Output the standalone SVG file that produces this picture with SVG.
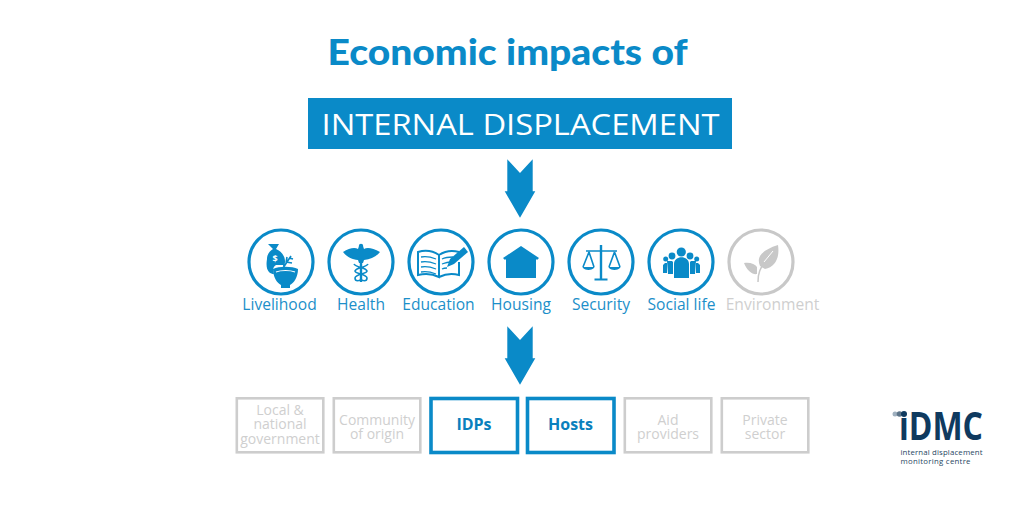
<svg xmlns="http://www.w3.org/2000/svg" width="1024" height="512" viewBox="0 0 1024 512">
<style>
.c{fill:#fff;stroke:#0a8ac8;stroke-width:3.2}
.cg{fill:#fff;stroke:#c8c8c8;stroke-width:3.2}
.b{fill:#0a8ac8}
.g{fill:#c8c8c8}
.ln{fill:none;stroke:#0a8ac8;stroke-width:1.600}
.lw{fill:none;stroke:#fff;stroke-width:1.300}
.lbl{font-family:"Open Sans","Noto Sans",sans-serif;font-size:15.600px;text-anchor:middle;fill:#1c8fc9}
.lg{fill:#cfcfcf}
.bx{fill:#fff;stroke:#cdcdcd;stroke-width:2.600}
.bb{fill:#fff;stroke:#0a8ac8;stroke-width:3.600}
.t{font-family:"Open Sans","Noto Sans",sans-serif;font-size:14px;text-anchor:middle;fill:#cfcfcf}
.tb{font-family:"Open Sans","Noto Sans",sans-serif;font-size:16px;font-weight:700;text-anchor:middle;fill:#0a80bd}
</style>
<rect width="1024" height="512" fill="#fff"/>
<text id="title" x="507.500" y="65" font-family="Lato,sans-serif" font-weight="900" font-size="36" text-anchor="middle" fill="#0a8ac8" textLength="360" lengthAdjust="spacingAndGlyphs">Economic impacts of</text>
<g id="banner">
<rect x="308" y="98" width="424" height="51" fill="#0a8ac8"/>
<text x="520.500" y="135" font-family="Open Sans,sans-serif" font-size="30" text-anchor="middle" fill="#fff" textLength="398" lengthAdjust="spacingAndGlyphs">INTERNAL DISPLACEMENT</text>
</g>
<g id="connectors">
<path class="b" d="M507.300 159.300L520 173L532.700 159.300V191.300H535.300L520 217.700L504.700 191.300H507.300Z"/>
<path class="b" d="M507.300 326.300L520 340L532.700 326.300V358.300H535.300L520 384.700L504.700 358.300H507.300Z"/>
</g>
<g id="livelihood">
<circle class="c" cx="281" cy="262" r="32"/>
<path class="b" d="M268 244h11l-3 5c5 2 9 7 9 12c0 1 0 3-1 4h-8c-2 1-3 3-3 6l1 3c-4 0-9-3-7-15c0-5 3-8 6-10z"/>
<path class="b" d="M273 269c6-3 19-3 25 0c0 8-4 14-8 16v3h-9v-3c-4-2-8-8-8-16z"/>
<path fill="none" stroke="#fff" stroke-width="1.200" d="M276 272c5-2 14-2 19 0"/>
<path class="ln" d="M283 268l8-12M289 258l4 1M286 262l6 1M287 257l-1 6M283 261l1 5"/>
<text x="275" y="262" font-family="Open Sans,sans-serif" font-size="9" font-weight="700" fill="#fff" text-anchor="middle">$</text>
<text class="lbl" x="279.500" y="310">Livelihood</text>
</g>
<g id="health">
<circle class="c" cx="361" cy="262" r="32"/>
<path class="b" d="M343 252c6-4 12-5 15-3l1-3h4l1 3c3-2 9-1 16 3c-4 5-9 7-16 8l-1 3h-4l-1-3c-7-1-11-3-15-8z"/>
<circle class="b" cx="361" cy="246" r="2.200"/>
<rect class="b" x="359.800" y="246" width="2.400" height="36"/>
<path class="ln" d="M368 264c-2 4-12 3-13 7c0 3 12 3 12 7s-5 3-6 1M354 264c2 4 12 3 13 7c0 3-12 3-12 7s5 3 6 1"/>
<text class="lbl" x="361" y="310">Health</text>
</g>
<g id="education">
<circle class="c" cx="441" cy="262" r="32"/>
<path fill="none" stroke="#0a8ac8" stroke-width="2" d="M418 252c7-2 15-1 21 3v22c-6-3-13-4-21-2zM439 255c6-4 13-5 20-3M459 262v13c-7-2-14-1-20 2"/>
<path fill="none" stroke="#0a8ac8" stroke-width="1.300" d="M421 257c5-1 10 0 15 2M421 262c5-1 10 0 15 2M421 267c5-1 10 0 15 2M421 272c5-1 10 0 15 2M442 259c4-2 8-2 11-2M442 264c3-1 6-2 8-2M442 269c2-1 3-1 5-1"/>
<path class="b" d="M447 267l3-8l14-12l4 5l-14 12z"/>
<text class="lbl" x="438.500" y="310">Education</text>
</g>
<g id="housing">
<circle class="c" cx="521" cy="262" r="32"/>
<path class="b" d="M503 258l18-12l18 12l-2 2l-1-1v19h-30v-19l-1 1z"/>
<text class="lbl" x="521" y="310">Housing</text>
</g>
<g id="security">
<circle class="c" cx="601" cy="262" r="32"/>
<rect class="b" x="599.800" y="245" width="2.400" height="34"/>
<rect class="b" x="594.500" y="278.500" width="13" height="2"/>
<path class="ln" stroke-width="1.200" d="M586 251h31M589 252l-6 15M589 252l5 15M614.500 252l-5.500 15M614.500 252l5.500 15"/>
<path class="b" d="M582.500 267h12c0 0-1 3-6 3s-6-3-6-3zM608.500 267h12c0 0-1 3-6 3s-6-3-6-3z"/>
<text class="lbl" x="601" y="310">Security</text>
</g>
<g id="social-life">
<circle class="c" cx="681" cy="262" r="32"/>
<circle class="b" cx="681.300" cy="252" r="4.600"/>
<circle class="b" cx="672" cy="256" r="3.400"/>
<circle class="b" cx="690" cy="256" r="3.400"/>
<circle class="b" cx="665.700" cy="259" r="2.500"/>
<circle class="b" cx="696.700" cy="259" r="2.500"/>
<path class="b" d="M674 264c0-9 15-9 15 0v14h-15zM667 261h5l1 1v12h-5zM690 262l1-1h5l-1 13h-5zM663 265l2-2h2v10h-4zM696 263h2l2 2v8h-4z"/>
<text class="lbl" x="681.500" y="310">Social life</text>
</g>
<g id="environment">
<circle class="cg" cx="761" cy="262" r="32"/>
<path class="g" d="M760 266c-4-9 2-16 18-21c2 13-3 22-13 24zM757 274c-4 1-10-3-13-11c6-1 11 1 13 4z"/>
<path d="M758 282c0-9 2-14 8-21" fill="none" stroke="#c8c8c8" stroke-width="1.500"/>
<path d="M764 262l9-11" fill="none" stroke="#fff" stroke-width="1"/>
<text class="lbl lg" x="772.500" y="310">Environment</text>
</g>
<g id="box-government">
<rect class="bx" x="236.800" y="398.300" width="86.500" height="54"/>
<text class="t"><tspan x="280" y="415">Local &amp;</tspan><tspan x="280" y="429">national</tspan><tspan x="280" y="443.500">government</tspan></text>
</g>
<g id="box-origin">
<rect class="bx" x="333.800" y="398.300" width="86.500" height="54"/>
<text class="t"><tspan x="377" y="425">Community</tspan><tspan x="377" y="439">of origin</tspan></text>
</g>
<g id="box-idps">
<rect class="bb" x="431" y="398.500" width="86.500" height="54"/>
<text class="tb" x="474" y="430">IDPs</text>
</g>
<g id="box-hosts">
<rect class="bb" x="527.500" y="398.500" width="86.500" height="54"/>
<text class="tb" x="570.500" y="430">Hosts</text>
</g>
<g id="box-aid">
<rect class="bx" x="624.800" y="398.300" width="86.500" height="54"/>
<text class="t"><tspan x="668" y="425">Aid</tspan><tspan x="668" y="439">providers</tspan></text>
</g>
<g id="box-private">
<rect class="bx" x="721.800" y="398.300" width="86.500" height="54"/>
<text class="t"><tspan x="765" y="425">Private</tspan><tspan x="765" y="439">sector</tspan></text>
</g>
<g id="logo">
<text x="899" y="440" font-family="Open Sans,sans-serif" font-weight="700" font-size="39" fill="#0f3a5f" textLength="84" lengthAdjust="spacingAndGlyphs">iDMC</text>
<rect x="892" y="409" width="17" height="9" fill="#fff"/>
<circle cx="895" cy="414" r="2.500" fill="#9fb0bf"/>
<circle cx="899.500" cy="414" r="2.800" fill="#5d7488"/>
<circle cx="904" cy="414" r="3" fill="#0f3a5f"/>
<text font-family="Open Sans,sans-serif" font-size="7.800" fill="#26465f"><tspan x="900.500" y="454.500" textLength="82">internal displacement</tspan><tspan x="900.500" y="464" textLength="70">monitoring centre</tspan></text>
</g>
</svg>
